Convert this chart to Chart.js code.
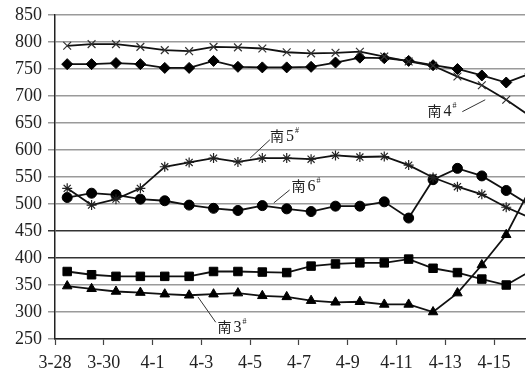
<!DOCTYPE html>
<html>
<head>
<meta charset="utf-8">
<script src="https://cdn.jsdelivr.net/npm/chart.js"></script>
<style>
    html, body { margin: 0; padding: 0; background: #fff; }
    #wrap { width: 532px; height: 376px; }
</style>
</head>
<body>
<div id="wrap"><canvas id="chart"></canvas></div>
<script>
// dni pomiaru (punkty danych)
const days = ['3-28', '3-29', '3-30', '3-31', '4-1', '4-2', '4-3', '4-4', '4-5', '4-6',
    '4-7', '4-8', '4-9', '4-10', '4-11', '4-12', '4-13', '4-14', '4-15', '4-16'];
// etykiety osi X (co dwa dni)
const tickLabels = ['3-28', '3-30', '4-1', '4-3', '4-5', '4-7', '4-9', '4-11', '4-13', '4-15'];

const south4 = [793, 796, 796, 791, 785, 783, 791, 790, 788, 781, 779, 780, 782, 773, 764, 756, 736, 720, 693, 662];
const diamondSeries = [759, 759, 761, 759, 752, 752, 765, 754, 753, 753, 754, 762, 771, 770, 765, 757, 750, 738, 725, 742];
const south5 = [529, 498, 509, 529, 569, 577, 585, 578, 585, 585, 583, 590, 587, 588, 572, 549, 532, 518, 494, 474];
const south6 = [512, 520, 517, 509, 506, 498, 492, 488, 497, 491, 486, 496, 496, 504, 474, 545, 566, 552, 525, 497];
const squareSeries = [375, 369, 366, 366, 366, 366, 375, 375, 374, 373, 385, 389, 391, 391, 398, 381, 373, 361, 350, 376];
const south3 = [348, 343, 338, 336, 333, 331, 333, 335, 330, 328, 321, 318, 319, 314, 314, 300, 335, 387, 443, 530];

// podpisy serii (tekst, numer, pozycja w jednostkach danych, linia odniesienia)
const noteText = ['南4', '南5', '南6', '南3'];
const noteAt = [[14.77, 672], [8.31, 626], [9.2, 533], [6.16, 273]];
const noteLine = [[16.2, 671, 17.14, 693], [8.31, 619, 7.5, 585], [9.12, 526, 8.47, 502], [6.09, 281, 5.36, 328]];

const toPoints = arr => arr.map((v, i) => ({x: i, y: v}));

const serif = '"Liberation Serif", "Times New Roman", serif';

const notesPlugin = {
    id: 'notes',
    afterDatasetsDraw(chart) {
        const ctx = chart.ctx;
        const xs = chart.scales.x, ys = chart.scales.y;
        ctx.save();
        ctx.strokeStyle = '#333';
        ctx.lineWidth = 1;
        noteLine.forEach(l => {
            ctx.beginPath();
            ctx.moveTo(xs.getPixelForValue(l[0]), ys.getPixelForValue(l[1]));
            ctx.lineTo(xs.getPixelForValue(l[2]), ys.getPixelForValue(l[3]));
            ctx.stroke();
        });
        ctx.fillStyle = '#222';
        ctx.textBaseline = 'middle';
        noteText.forEach((t, i) => {
            let x = xs.getPixelForValue(noteAt[i][0]);
            const y = ys.getPixelForValue(noteAt[i][1]);
            ctx.font = '14px "Noto Sans CJK SC"';
            ctx.fillText(t[0], x, y);
            x += ctx.measureText(t[0]).width + 2;
            ctx.font = '16px ' + serif;
            ctx.fillText(t.slice(1), x, y + 1);
            x += ctx.measureText(t.slice(1)).width + 1;
            ctx.font = '8px ' + serif;
            ctx.fillText('#', x, y - 5);
        });
        ctx.restore();
    }
};

const lineBase = {
    borderColor: '#111',
    borderWidth: 1.8,
    tension: 0,
    fill: false,
    pointBackgroundColor: '#000',
    pointBorderColor: '#000',
    pointBorderWidth: 1
};

new Chart(document.getElementById('chart'), {
    type: 'line',
    data: {
        datasets: [
            {...lineBase, label: '南4#', data: toPoints(south4), pointStyle: 'crossRot', pointRadius: 5.5,
                pointBorderColor: '#333', pointBorderWidth: 1.2},
            {...lineBase, label: 'diamond', data: toPoints(diamondSeries), pointStyle: 'rectRot', pointRadius: 5.5},
            {...lineBase, label: '南5#', data: toPoints(south5), pointStyle: 'star', pointRadius: 5,
                pointBorderColor: '#222', pointBorderWidth: 1.2},
            {...lineBase, label: '南6#', data: toPoints(south6), pointStyle: 'circle', pointRadius: 5},
            {...lineBase, label: 'square', data: toPoints(squareSeries), pointStyle: 'rect', pointRadius: 6},
            {...lineBase, label: '南3#', data: toPoints(south3), pointStyle: 'triangle', pointRadius: 5.5}
        ]
    },
    options: {
        responsive: true,
        maintainAspectRatio: false,
        animation: false,
        devicePixelRatio: 1,
        layout: {padding: {top: 15, right: 0, bottom: 0, left: 0}},
        plugins: {
            legend: {display: false},
            tooltip: {enabled: false}
        },
        scales: {
            x: {
                type: 'linear',
                min: -0.5,
                max: 18.77,
                border: {color: '#222', width: 1.5},
                grid: {drawOnChartArea: false, tickLength: 6, tickColor: '#444', tickWidth: 1.2},
                afterBuildTicks: scale => {
                    scale.ticks = tickLabels.map((t, i) => ({value: -0.5 + 2 * i}));
                },
                ticks: {
                    autoSkip: false,
                    maxRotation: 0,
                    padding: 7,
                    color: '#222',
                    font: {family: serif, size: 18},
                    callback: (value, index) => tickLabels[index]
                },
                afterFit: scale => {
                    scale.height = 37;
                    scale.paddingLeft = 0;
                    scale.paddingRight = 0;
                }
            },
            y: {
                min: 250,
                max: 850,
                border: {color: '#222', width: 1.5},
                grid: {
                    color: ctx => (ctx.tick && (ctx.tick.value === 400 || ctx.tick.value === 450)) ? '#333' : '#9a9a9a',
                    lineWidth: 1.5,
                    tickLength: 7
                },
                ticks: {
                    stepSize: 50,
                    padding: 6,
                    color: '#222',
                    font: {family: serif, size: 18}
                },
                afterFit: scale => {
                    scale.width = 55;
                    scale.paddingTop = 0;
                    scale.paddingBottom = 0;
                }
            }
        }
    },
    plugins: [notesPlugin]
});
</script>
</body>
</html>
